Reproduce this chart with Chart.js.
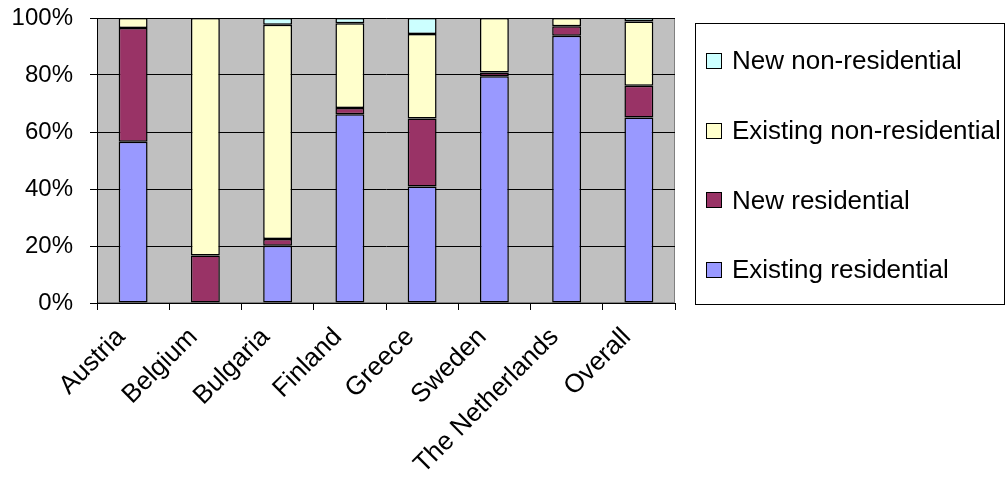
<!DOCTYPE html>
<html>
<head>
<meta charset="utf-8">
<script src="https://cdn.jsdelivr.net/npm/chart.js@4.4.0/dist/chart.umd.min.js"></script>
<style>
html, body { margin: 0; padding: 0; background: #fff; }
</style>
</head>
<body>
<canvas id="myChart" width="1007" height="480"></canvas>
<script>
// categories and series (percent of each country's total)
var countries = ["Austria", "Belgium", "Bulgaria", "Finland", "Greece", "Sweden", "The Netherlands", "Overall"];
var existingResidential = [56.6, null, 20.1, 66.2, 40.9, 79.6, 93.8, 65.1];
var newResidential = [39.9, 16.7, 2.4, 2.2, 23.8, 1.3, 3.3, 11.1];
var existingNonResidential = [3.5, 83.3, 75.1, 29.8, 29.7, 19.1, 2.9, 22.6];
var newNonResidential = [null, null, 2.4, 1.8, 5.6, null, null, 1.2];
var yTicks = [0, 20, 40, 60, 80, 100];

var fontFamily = "'Liberation Sans', Arial, sans-serif";

// grey plot area like the old excel default
var plotBg = {
  id: 'plotBg',
  beforeDraw: function(chart) {
    var a = chart.chartArea;
    var ctx = chart.ctx;
    ctx.save();
    ctx.fillStyle = '#c0c0c0';
    ctx.fillRect(a.left, a.top, a.right - a.left, a.bottom - a.top);
    ctx.strokeStyle = '#808080';
    ctx.lineWidth = 1;
    ctx.strokeRect(a.left + 0.5, a.top + 0.5, a.right - a.left - 1, a.bottom - a.top - 1);
    ctx.restore();
  }
};

// boxed legend on the right, top series first
var sideLegend = {
  id: 'sideLegend',
  afterDraw: function(chart) {
    var ctx = chart.ctx;
    var a = chart.chartArea;
    var left = a.right + 20;
    var top = 23;
    ctx.save();
    ctx.strokeStyle = '#000';
    ctx.lineWidth = 1;
    ctx.strokeRect(left + 0.5, top + 0.5, 309, 281);
    ctx.font = '26px ' + fontFamily;
    ctx.textBaseline = 'middle';
    var sets = chart.data.datasets;
    for (var k = 0; k < sets.length; k++) {
      var ds = sets[sets.length - 1 - k];
      var y = 61 + k * 69.7;
      var sy = Math.round(y - 8) + 0.5;
      ctx.fillStyle = ds.backgroundColor;
      ctx.fillRect(left + 11.5, sy, 15, 15);
      ctx.strokeRect(left + 11.5, sy, 15, 15);
      ctx.fillStyle = '#000';
      ctx.fillText(ds.label, left + 37, y + 1);
    }
    ctx.restore();
  }
};

function barSet(label, values, colour) {
  return {
    label: label,
    data: values,
    backgroundColor: colour,
    borderColor: '#000',
    borderWidth: 1.5,
    borderSkipped: false,
    barPercentage: 0.4,
    categoryPercentage: 1
  };
}

var chart = new Chart(document.getElementById('myChart'), {
  type: 'bar',
  data: {
    labels: countries,
    datasets: [
      barSet('Existing residential', existingResidential, '#9999ff'),
      barSet('New residential', newResidential, '#993366'),
      barSet('Existing non-residential', existingNonResidential, '#ffffcc'),
      barSet('New non-residential', newNonResidential, '#ccffff')
    ]
  },
  options: {
    responsive: false,
    animation: false,
    layout: { padding: { top: 18, right: 332, bottom: 0, left: 0 } },
    plugins: {
      legend: { display: false },
      tooltip: { enabled: false }
    },
    scales: {
      x: {
        stacked: true,
        grid: { offset: true, drawOnChartArea: false, color: '#000', tickLength: 7 },
        border: { color: '#000' },
        ticks: {
          autoSkip: false,
          minRotation: 45,
          maxRotation: 45,
          padding: 12,
          labelOffset: -12,
          color: '#000',
          font: { family: fontFamily, size: 26 }
        },
        afterFit: function(s) { s.height = 177; }
      },
      y: {
        stacked: true,
        min: 0,
        max: 100,
        afterBuildTicks: function(s) {
          s.ticks = yTicks.map(function(v) { return { value: v }; });
        },
        grid: { color: '#000', tickLength: 7 },
        border: { color: '#000' },
        ticks: {
          padding: 17,
          color: '#000',
          font: { family: fontFamily, size: 24 },
          callback: function(v) { return v + '%'; }
        },
        afterFit: function(s) {
          s.width = 97;
          // tick padding otherwise pushes the plot top down
          s.paddingTop = 0;
          s.paddingBottom = 0;
        }
      }
    }
  },
  plugins: [plotBg, sideLegend]
});
</script>
</body>
</html>
